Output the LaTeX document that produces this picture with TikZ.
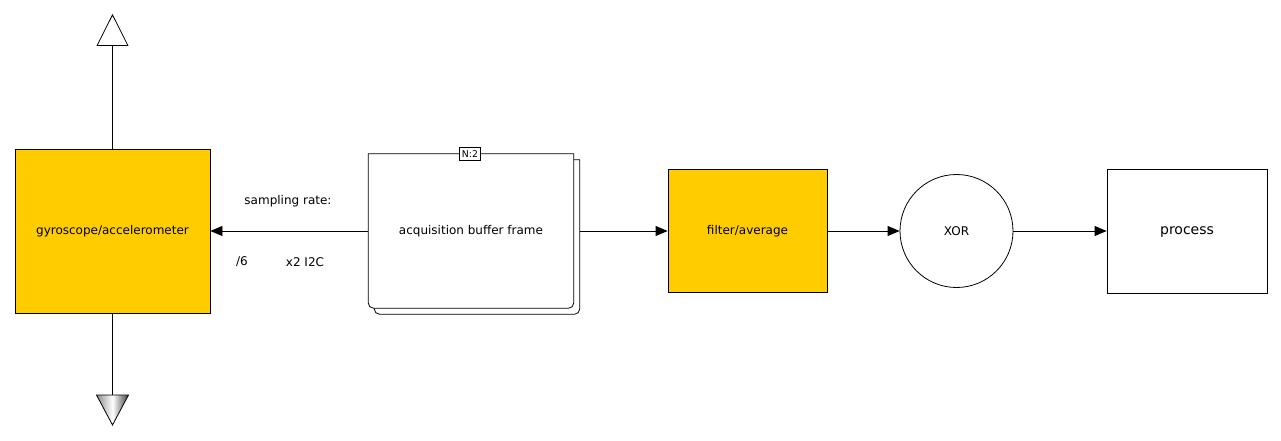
\documentclass[tikz,border=0pt]{standalone}
\usepackage{fontspec}
\setmainfont{DejaVu Sans}
\usetikzlibrary{arrows.meta,calc}
\definecolor{gold}{HTML}{FFCC00}
\def\roundbottom[#1](#2){\draw[#1] (#2.north west) -- (#2.north east) -- ([yshift=4pt]#2.south east) arc (0:-90:4pt) -- ([xshift=4pt]#2.south west) arc (270:180:4pt) -- cycle;}

\begin{document}
\begin{tikzpicture}[x=0.75pt,y=0.75pt,
	block/.style={draw, line width=0.6pt, inner sep=0pt, font=\fontsize{9}{11}\selectfont},
	flow/.style={draw, line width=0.6pt, -{Triangle[length=9pt,width=7.5pt]}},
	lbl/.style={inner sep=1pt, font=\fontsize{9}{11}\selectfont}]
		%%%%% START %%%%%
		
		\useasboundingbox (0, 0) rectangle (1281, 440);
		
		\node[block, fill=gold, minimum width=195*0.75pt, minimum height=164*0.75pt] (gyro) at (112.5, 209) {gyroscope/accelerometer};
		
		\coordinate (up) at (112.5, 426);
		\coordinate (down) at (112.5, 45);
		\draw[line width=0.6pt, -{Triangle[open, length=24pt, width=24pt]}] (gyro.north) -- (up);
		\draw[line width=0.6pt] (gyro.south) -- (down);
		\draw[line width=0.6pt, left color=black!45, right color=black!75, middle color=white] (down) -- ++(-16, 0) -- ++(16, -30) -- ++(16, 30) -- cycle;
		
		\node[minimum width=205*0.75pt, minimum height=154*0.75pt] (bufferback) at (477, 203) {};
		\node[minimum width=205*0.75pt, minimum height=154*0.75pt] (buffer) at (471, 209) {};
		\roundbottom[line width=0.6pt, fill=white](bufferback)
		\roundbottom[line width=0.6pt, fill=white](buffer)
		\node[lbl] (buftext) at (buffer) {acquisition buffer frame};
		\node[draw, fill=white, line width=0.6pt, inner sep=2pt, font=\fontsize{7}{8}\selectfont] (count) at (470, 286) {N:2};
		
		\node[lbl] (rate) at (288, 238.5) {sampling rate:};
		\node[lbl] (div) at (242, 178) {/6};
		\node[lbl] (bus) at (305, 178) {x2 I2C};
		
		\node[block, fill=gold, minimum width=159*0.75pt, minimum height=123*0.75pt] (filter) at (747.5, 209) {filter/average};
		\node[block, circle, minimum size=113*0.75pt] (xor) at (956.5, 209) {XOR};
		\node[block, minimum width=160*0.75pt, minimum height=124*0.75pt, text depth=0pt, font=\fontsize{10.5}{12}\selectfont] (process) at (1187, 209) {process};
		
		\draw[flow] (buffer.west) -- (gyro.east);
		\draw[flow] (buffer.east -| bufferback.east) -- (filter.west);
		\draw[flow] (filter.east) -- (xor.west);
		\draw[flow] (xor.east) -- (process.west);
		
		%%%%% END %%%%%
	\end{tikzpicture}
\end{document}
